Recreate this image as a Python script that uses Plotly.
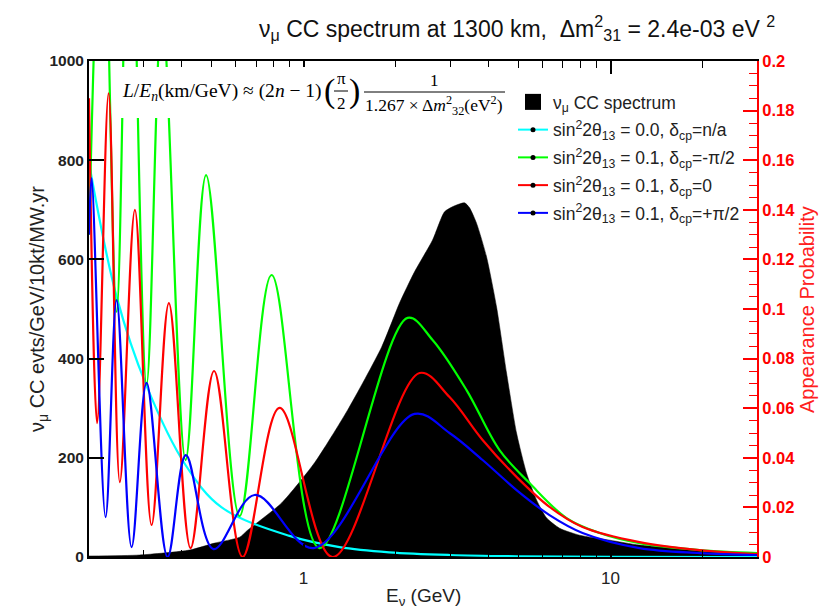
import plotly.graph_objects as go

# ---------------- data ----------------
spec_E = [0.2, 0.292, 0.425, 0.513, 0.619, 0.657, 0.848, 1.086, 1.391, 1.795, 2.054, 2.299,
          2.632, 2.879, 3.103, 3.346, 3.473, 3.660, 3.946, 4.253, 4.584, 4.941, 5.325, 5.741,
          6.187, 6.823, 7.925, 9.925, 12.43, 19.49, 30.0]
spec_rate = [2, 4, 14, 28, 40, 54, 109, 190, 296, 423, 512, 575,
             639, 696, 708, 714, 704, 673, 605, 504, 371, 250, 169, 115,
             79, 58, 44, 34, 24, 14, 6]

cyan_E = [0.2, 0.246, 0.308, 0.413, 0.541, 0.9, 1.31, 1.9, 3.0, 5.0, 10.0, 30.0]
cyan_P = [0.159, 0.105, 0.069, 0.037, 0.020, 0.0085, 0.0040, 0.0019, 0.0008, 0.0003, 0.0001, 0.0]

green_E = [0.2, 0.2214, 0.246, 0.2712, 0.308, 0.3459, 0.4127, 0.4813, 0.6189, 0.7868, 1.127,
           2.182, 2.632, 3.396, 4.348, 5.447, 7.19, 9.21, 12.43, 19.49, 30.0]
green_P = [0.13, 0.28, 0.0988, 0.29, 0.0694, 0.22, 0.0391, 0.154, 0.0165, 0.1137, 0.0036,
           0.0964, 0.0875, 0.0673, 0.0431, 0.0298, 0.0157, 0.0097, 0.0056, 0.0028, 0.0016]

red_E = [0.2, 0.2126, 0.2316, 0.2521, 0.2822, 0.3198, 0.3641, 0.4284, 0.511, 0.633, 0.8353,
         1.243, 2.387, 2.989, 3.83, 4.941, 6.327, 8.106, 12.43, 19.49, 30.0]
red_P = [0.185, 0.054, 0.187, 0.0302, 0.140, 0.0129, 0.1024, 0.0036, 0.075, 0.0, 0.0601,
         0.0, 0.0742, 0.0645, 0.0472, 0.0323, 0.0202, 0.0121, 0.006, 0.0028, 0.0012]

blue_E = [0.2, 0.2039, 0.2265, 0.246, 0.2753, 0.308, 0.3606, 0.4136, 0.509, 0.6924, 1.078,
          2.299, 2.989, 3.83, 4.941, 6.327, 8.106, 12.43, 19.49, 30.0]
blue_P = [0.13, 0.1528, 0.0161, 0.1036, 0.004, 0.0702, 0.0, 0.0411, 0.0032, 0.025, 0.0036,
          0.0577, 0.050, 0.0391, 0.027, 0.0169, 0.0097, 0.0036, 0.0016, 0.0008]

series_names = ["sin<sup>2</sup>2θ<sub>13</sub> = 0.0, δ<sub>cp</sub>=n/a",
                "sin<sup>2</sup>2θ<sub>13</sub> = 0.1, δ<sub>cp</sub>=-π/2",
                "sin<sup>2</sup>2θ<sub>13</sub> = 0.1, δ<sub>cp</sub>=0",
                "sin<sup>2</sup>2θ<sub>13</sub> = 0.1, δ<sub>cp</sub>=+π/2"]
spec_name = "ν<sub>μ</sub> CC spectrum"
x_major = [1, 10]
x_minor = [0.2, 0.3, 0.4, 0.5, 0.6, 0.7, 0.8, 0.9, 2, 3, 4, 5, 6, 7, 8, 9, 20, 30]

# ---------------- layout helpers (reference-pixel positions) ----------------
OFF = 8                      # page body margin of the html page
W, H = 828 - OFF, 609 - OFF
PL, PR, PT, PB = 89, 757, 61, 557
def xp(px):
    return (px - PL) / (PR - PL)
def yp(py):
    return (PB - py) / (PB - PT)

SANS = "Liberation Sans, Arial, sans-serif"
SERIF = "Liberation Serif, DejaVu Serif, serif"

fig = go.Figure()

fig.add_trace(go.Scatter(x=spec_E, y=spec_rate, mode="lines", fill="tozeroy",
                         fillcolor="black", line=dict(color="black", width=0.5, shape="spline", smoothing=0.6),
                         showlegend=False, yaxis="y"))

colors = ["#00ffff", "#00ff00", "#ff0000", "#0000ff"]
curves = [(cyan_E, cyan_P), (green_E, green_P), (red_E, red_P), (blue_E, blue_P)]
for (xe, yv), c in zip(curves, colors):
    fig.add_trace(go.Scatter(x=xe, y=yv, mode="lines", yaxis="y2",
                             line=dict(color=c, width=2.2, shape="spline", smoothing=1.0),
                             showlegend=False))

# legend-only entries
fig.add_trace(go.Scatter(x=[None], y=[None], mode="markers", name=spec_name,
                         marker=dict(symbol="square", size=20, color="black"),
                         legendgroup="g0"))
for i, (nm, c) in enumerate(zip(series_names, colors)):
    fig.add_trace(go.Scatter(x=[None], y=[None], mode="lines+markers", name=nm,
                             line=dict(color=c, width=2), marker=dict(color="black", size=5),
                             legendgroup="g%d" % (i + 1), yaxis="y2"))

# white box behind the formula
fig.add_shape(type="rect", xref="paper", yref="paper", layer="above",
              x0=xp(113), x1=xp(512), y0=yp(118), y1=yp(67),
              fillcolor="white", line=dict(width=0))
# fraction bars
fig.add_shape(type="line", xref="paper", yref="paper", layer="above",
              x0=xp(334), x1=xp(348), y0=yp(91), y1=yp(91), line=dict(color="black", width=1))
fig.add_shape(type="line", xref="paper", yref="paper", layer="above",
              x0=xp(364), x1=xp(505), y0=yp(92), y1=yp(92), line=dict(color="black", width=1))

def ann(text, x, y, size, font=SANS, color="black", xanchor="center", angle=0, bold=False):
    fig.add_annotation(text=text, xref="paper", yref="paper", x=xp(x), y=yp(y),
                       showarrow=False, xanchor=xanchor, yanchor="middle", textangle=angle,
                       font=dict(family=font, size=size, color=color,
                                 weight="bold" if bold else "normal"))

ann("<i>L</i>/<i>E<sub>n</sub></i>(km/GeV) ≈ (2<i>n</i> − 1)", 120, 92, 19.5, SERIF, xanchor="left")
ann("(", 329, 91, 34, SERIF)
ann(")", 354, 91, 34, SERIF)
ann("π", 341, 79, 17, SERIF)
ann("2", 341, 104, 17, SERIF)
ann("1", 434, 80, 17, SERIF)
ann("1.267 × Δ<i>m</i><sup>2</sup><sub>32</sub>(eV<sup>2</sup>)", 434, 106, 17.5, SERIF)

# title and axis titles
ann("ν<sub>μ</sub> CC spectrum at 1300 km,  Δm<sup>2</sup><sub>31</sub> = 2.4e-03 eV <sup>2</sup>",
    517, 28, 23, SANS, "#111")
ann("ν<sub>μ</sub> CC evts/GeV/10kt/MW.yr", 38, 309, 20, SANS, "#222", angle=-90)
ann("Appearance Probability", 807, 310, 20, SANS, "#ff2020", angle=-90)
ann("E<sub>ν</sub> (GeV)", 423, 597, 19, SANS, "#222")

fig.update_layout(
    width=W, height=H,
    margin=dict(l=PL - OFF, r=W - (PR - OFF), t=PT - OFF, b=H - (PB - OFF)),
    paper_bgcolor="white", plot_bgcolor="white",
    showlegend=True,
    legend=dict(x=xp(513), y=yp(84), xanchor="left", yanchor="top",
                font=dict(family=SANS, size=17.5, color="#222"),
                bgcolor="rgba(0,0,0,0)", tracegroupgap=2, itemwidth=30),
    xaxis=dict(type="log", range=[-0.69897, 1.4771], showgrid=False, zeroline=False,
               showline=True, linecolor="black", linewidth=2, mirror="ticks",
               ticks="inside", ticklen=13, tickwidth=1.5, tickcolor="black",
               tickvals=x_major, ticktext=["1", "10"], ticklabelstandoff=5,
               tickfont=dict(family=SANS, size=17, color="#222"),
               minor=dict(ticks="inside", ticklen=7, tickwidth=1.2, tickcolor="black",
                          tickvals=x_minor)),
    yaxis=dict(range=[0, 1000], showgrid=False, zeroline=False, showline=True,
               linecolor="black", linewidth=2, ticks="inside", ticklen=15, tickwidth=1.5,
               tickcolor="black", dtick=200,
               tickfont=dict(family=SANS, size=15.5, color="#222", weight="bold")),
    yaxis2=dict(range=[0, 0.2], overlaying="y", side="right", showgrid=False, zeroline=False,
                showline=True, linecolor="red", linewidth=2, ticks="inside", ticklen=14,
                tickwidth=1.5, tickcolor="red", dtick=0.02,
                tickfont=dict(family=SANS, size=16.5, color="red", weight="bold"),
                minor=dict(ticks="inside", ticklen=8, tickwidth=1.2, tickcolor="red", dtick=0.005)),
)

fig.write_html("out.html")
